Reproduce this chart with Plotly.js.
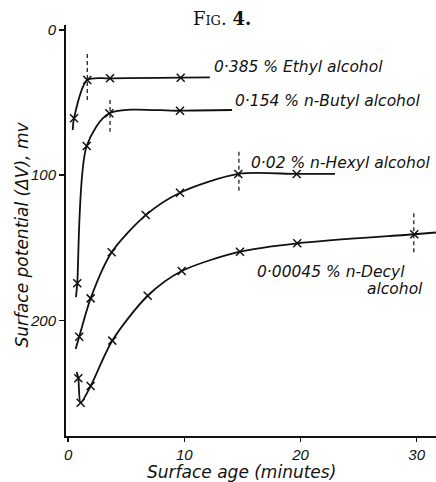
<!DOCTYPE html>
<html>
<head>
<meta charset="utf-8">
<script src="https://cdn.plot.ly/plotly-3.0.1.min.js"></script>
<style>html,body{margin:0;padding:0;background:#fff;}#chart{width:436px;height:482px;}</style>
</head>
<body>
<div id="chart"></div>
<script>
// ---- data (surface age in minutes, surface potential ΔV in mV) ----
const ethylTime = [0.51, 1.65, 3.61, 9.69];
const ethylPot  = [60.9, 34.6, 33.4, 33.0];
const ethylStart = [0.40, 69.0];
const ethylEnd   = [12.2, 32.7];

const butylTime = [0.79, 1.60, 3.55, 9.63];
const butylPot  = [174.4, 80.0, 57.5, 55.7];
const butylStart = [0.68, 183.9];
const butylEnd   = [14.1, 55.2];

const hexylTime = [0.96, 1.94, 3.75, 6.68, 9.63, 14.65, 19.67];
const hexylPot  = [211.2, 184.8, 153.1, 127.5, 112.1, 99.2, 99.2];
const hexylStart = [0.65, 219.6];
const hexylEnd   = [22.97, 99.2];

const decylTime = [0.88, 1.08, 1.94, 3.80, 6.85, 9.78, 14.79, 19.72, 29.79];
const decylPot  = [239.8, 256.6, 245.1, 213.9, 183.0, 166.0, 152.7, 146.9, 140.7];
const decylStart = [0.74, 235.5];
const decylEnd   = [31.66, 139.5];

// equilibrium markers (dashed verticals)
const eqTime   = [1.65, 3.61, 14.7, 29.75];
const eqTop    = [16.7, 48.3, 83.9, 126.3];
const eqBottom = [48.3, 70.1, 112.5, 155.0];

const seriesLabels = ["0·385 % Ethyl alcohol", "0·154 % n-Butyl alcohol", "0·02 % n-Hexyl alcohol", "0·00045 % n-Decyl", "alcohol"];
const xTickVals = [0, 10, 20, 30];
const yTickVals = [0, 100, 200];
const xTitle = "Surface age (minutes)";
const yTitle = "Surface potential (ΔV), mv";
const figTitle = "Fig. <b>4.</b>";

// ---- build traces ----
const series = [
  [ethylTime, ethylPot, ethylStart, ethylEnd],
  [butylTime, butylPot, butylStart, butylEnd],
  [hexylTime, hexylPot, hexylStart, hexylEnd],
  [decylTime, decylPot, decylStart, decylEnd]
];
const traces = [];
series.forEach(s => {
  const [t, p, st, en] = s;
  traces.push({
    x: [st[0]].concat(t, [en[0]]),
    y: [st[1]].concat(p, [en[1]]),
    mode: 'lines', type: 'scatter',
    line: {color: '#111', width: 1.8, shape: 'spline', smoothing: 0.8},
    hoverinfo: 'skip', showlegend: false
  });
  traces.push({
    x: t, y: p, mode: 'markers', type: 'scatter',
    marker: {symbol: 'x-thin', size: 8, color: '#111', line: {color: '#111', width: 1.5}},
    showlegend: false
  });
});
const dx = [], dy = [];
eqTime.forEach((t, i) => { dx.push(t, t, null); dy.push(eqTop[i], eqBottom[i], null); });
traces.push({x: dx, y: dy, mode: 'lines', type: 'scatter',
  line: {color: '#111', width: 1.2, dash: '4px,3px'}, showlegend: false, hoverinfo: 'skip'});

const labFont = {family: 'DejaVu Sans', size: 15.5, color: '#111', style: 'italic'};
const labelPos = [[12.36, 25.4], [14.22, 49.0], [15.6, 91.9], [16.08, 166.5], [25.55, 178.6]];
const annotations = seriesLabels.map((txt, i) => ({
  x: labelPos[i][0], y: labelPos[i][1], xref: 'x', yref: 'y',
  text: txt, showarrow: false, xanchor: 'left', yanchor: 'middle', font: labFont
}));
annotations.push({
  xref: 'paper', yref: 'paper', x: 0, y: 0.49, xshift: -44, textangle: -90,
  text: yTitle, showarrow: false, xanchor: 'center', yanchor: 'middle',
  font: {family: 'DejaVu Sans', size: 17, color: '#111', style: 'italic'}
});
annotations.push({
  xref: 'paper', yref: 'paper', x: 0.473, y: 0, yshift: -36,
  text: xTitle, showarrow: false, xanchor: 'center', yanchor: 'middle',
  font: {family: 'DejaVu Sans', size: 17, color: '#111', style: 'italic'}
});
annotations.push({
  xref: 'paper', yref: 'paper', x: 0.4216, y: 1, yshift: 7,
  text: figTitle, showarrow: false, xanchor: 'center', yanchor: 'middle',
  font: {family: 'DejaVu Serif', size: 18, color: '#111', variant: 'small-caps'}
});

const tickFont = {family: 'Liberation Sans', size: 15, color: '#111', style: 'italic'};
const layout = {
  width: 436, height: 482,
  margin: {l: 66, r: 0, t: 25, b: 46},
  paper_bgcolor: '#fff', plot_bgcolor: '#fff',
  showlegend: false,
  xaxis: {
    range: [-0.18, 31.66], tickvals: xTickVals, ticktext: xTickVals.map(String),
    showgrid: false, zeroline: false, showline: true, linecolor: '#111', linewidth: 2,
    ticks: 'outside', ticklen: 4, tickwidth: 1.5, tickcolor: '#111', tickfont: tickFont
  },
  yaxis: {
    range: [279.5, -3.27], tickvals: yTickVals, ticktext: yTickVals.map(String),
    showgrid: false, zeroline: false, showline: true, linecolor: '#111', linewidth: 2,
    ticks: 'outside', ticklen: 5, tickwidth: 1.5, tickcolor: '#111', tickfont: tickFont
  },
  annotations: annotations
};
Plotly.newPlot('chart', traces, layout, {staticPlot: true, displayModeBar: false});
</script>
</body>
</html>
